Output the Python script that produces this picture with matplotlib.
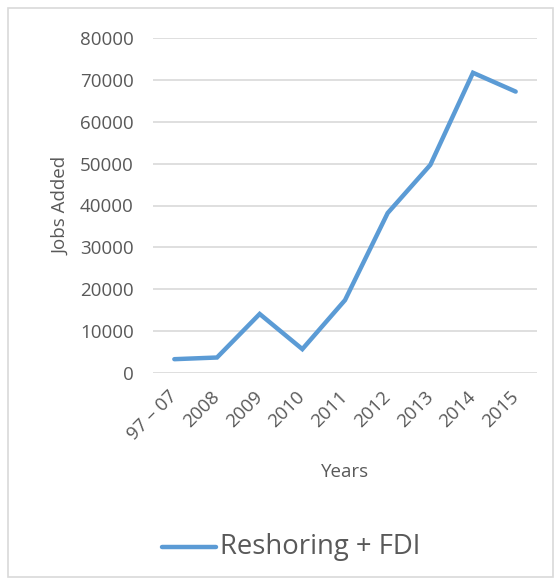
import matplotlib
matplotlib.use("Agg")
import matplotlib.pyplot as plt
from matplotlib.patches import Rectangle
from matplotlib.lines import Line2D

# data
years = ["97 \u2013 07", "2008", "2009", "2010", "2011", "2012", "2013", "2014", "2015"]
jobs = [3300, 3700, 14100, 5700, 17400, 38200, 49700, 71700, 67200]
yticks = [0, 10000, 20000, 30000, 40000, 50000, 60000, 70000, 80000]

plt.rcParams['font.family'] = ['Open Sans', 'DejaVu Sans']
TXT = '#595959'
GRID = '#D9D9D9'
BLUE = '#5B9BD5'

fig = plt.figure(figsize=(5.6, 5.85), dpi=100)
fig.patch.set_facecolor('white')

# outer chart-area border
fig.patches.append(Rectangle((8 / 560, 8 / 585), 545 / 560, 569 / 585,
                             transform=fig.transFigure, fill=False,
                             edgecolor=GRID, linewidth=1.2))

ax = fig.add_axes([153 / 560, 1 - 373 / 585, 384 / 560, 335 / 585])
x = list(range(len(years)))
ax.plot(x, jobs, color=BLUE, linewidth=3.2, solid_joinstyle='miter',
        solid_capstyle='round', zorder=3)

ax.set_xlim(-0.5, len(years) - 0.5)
ax.set_ylim(0, 80000)
ax.set_yticks(yticks)
ax.set_yticklabels([str(v) for v in yticks])
ax.set_xticks(x)
ax.set_xticklabels(years, rotation=45, ha='right', va='center',
                   rotation_mode='anchor')
ax.yaxis.grid(True, color=GRID, linewidth=1.2)
ax.set_axisbelow(True)
for s in ax.spines.values():
    s.set_visible(False)
ax.tick_params(axis='both', length=0, labelsize=13.5, colors=TXT)
ax.tick_params(axis='y', pad=14)
ax.tick_params(axis='x', pad=15)

ax.set_ylabel('Jobs Added', fontsize=13.5, color=TXT, labelpad=7)
fig.text(345 / 560, 1 - 472 / 585, 'Years', fontsize=13.5, color=TXT,
         ha='center', va='center')

# legend at bottom
fig.lines.append(Line2D([162 / 560, 216 / 560], [1 - 547 / 585, 1 - 547 / 585],
                        transform=fig.transFigure, color=BLUE, linewidth=3.2,
                        solid_capstyle='round'))
fig.text(220 / 560, 1 - 547 / 585, 'Reshoring + FDI', fontsize=19.8,
         color=TXT, ha='left', va='center')

fig.savefig('out.png', dpi=100, facecolor='white')
